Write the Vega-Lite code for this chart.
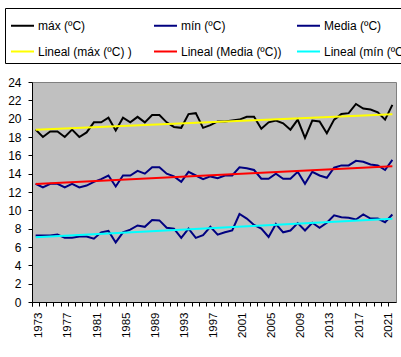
{
  "$schema": "https://vega.github.io/schema/vega-lite/v6.json",
  "width": 364,
  "height": 220,
  "autosize": {"type": "none"},
  "padding": {"left": 32, "top": 82, "right": 5, "bottom": 55},
  "background": "white",
  "config": {
    "font": "Liberation Sans",
    "view": {"fill": "#C0C0C0", "stroke": "#808080", "strokeWidth": 1},
    "axis": {"grid": false, "domainColor": "black", "tickColor": "black", "labelColor": "black", "labelFont": "Liberation Sans"}
  },
  "data": {"values": [
    {"year": 1973, "max": 18.8, "media": 12.9, "min": 7.25},
    {"year": 1974, "max": 18.0, "media": 12.5, "min": 7.25},
    {"year": 1975, "max": 18.6, "media": 12.9, "min": 7.25},
    {"year": 1976, "max": 18.6, "media": 12.9, "min": 7.35},
    {"year": 1977, "max": 18.0, "media": 12.5, "min": 7.0},
    {"year": 1978, "max": 18.8, "media": 12.9, "min": 7.0},
    {"year": 1979, "max": 18.0, "media": 12.5, "min": 7.15},
    {"year": 1980, "max": 18.5, "media": 12.7, "min": 7.15},
    {"year": 1981, "max": 19.6, "media": 13.1, "min": 6.9},
    {"year": 1982, "max": 19.6, "media": 13.4, "min": 7.6},
    {"year": 1983, "max": 20.1, "media": 13.8, "min": 7.75},
    {"year": 1984, "max": 18.7, "media": 12.6, "min": 6.5},
    {"year": 1985, "max": 20.1, "media": 13.8, "min": 7.6},
    {"year": 1986, "max": 19.6, "media": 13.8, "min": 7.9},
    {"year": 1987, "max": 20.2, "media": 14.3, "min": 8.35},
    {"year": 1988, "max": 19.6, "media": 14.0, "min": 8.2},
    {"year": 1989, "max": 20.4, "media": 14.7, "min": 8.95},
    {"year": 1990, "max": 20.4, "media": 14.7, "min": 8.9},
    {"year": 1991, "max": 19.6, "media": 14.0, "min": 8.1},
    {"year": 1992, "max": 19.1, "media": 13.7, "min": 8.0},
    {"year": 1993, "max": 19.0, "media": 13.1, "min": 7.0},
    {"year": 1994, "max": 20.5, "media": 14.2, "min": 8.0},
    {"year": 1995, "max": 20.6, "media": 13.8, "min": 7.0},
    {"year": 1996, "max": 19.0, "media": 13.4, "min": 7.3},
    {"year": 1997, "max": 19.3, "media": 13.7, "min": 8.2},
    {"year": 1998, "max": 19.7, "media": 13.5, "min": 7.35},
    {"year": 1999, "max": 19.7, "media": 13.8, "min": 7.6},
    {"year": 2000, "max": 19.8, "media": 13.8, "min": 7.8},
    {"year": 2001, "max": 19.9, "media": 14.7, "min": 9.6},
    {"year": 2002, "max": 20.2, "media": 14.6, "min": 9.1},
    {"year": 2003, "max": 20.2, "media": 14.4, "min": 8.4},
    {"year": 2004, "max": 18.9, "media": 13.45, "min": 8.0},
    {"year": 2005, "max": 19.6, "media": 13.45, "min": 7.1},
    {"year": 2006, "max": 19.8, "media": 14.0, "min": 8.5},
    {"year": 2007, "max": 19.5, "media": 13.45, "min": 7.6},
    {"year": 2008, "max": 18.8, "media": 13.45, "min": 7.8},
    {"year": 2009, "max": 19.9, "media": 14.2, "min": 8.6},
    {"year": 2010, "max": 17.9, "media": 12.9, "min": 7.8},
    {"year": 2011, "max": 19.8, "media": 14.2, "min": 8.65},
    {"year": 2012, "max": 19.7, "media": 13.8, "min": 8.1},
    {"year": 2013, "max": 18.4, "media": 13.55, "min": 8.65},
    {"year": 2014, "max": 19.9, "media": 14.65, "min": 9.45},
    {"year": 2015, "max": 20.5, "media": 14.9, "min": 9.25},
    {"year": 2016, "max": 20.6, "media": 14.9, "min": 9.2},
    {"year": 2017, "max": 21.6, "media": 15.4, "min": 9.0},
    {"year": 2018, "max": 21.1, "media": 15.3, "min": 9.55},
    {"year": 2019, "max": 21.0, "media": 15.0, "min": 9.1},
    {"year": 2020, "max": 20.7, "media": 14.9, "min": 9.1},
    {"year": 2021, "max": 19.9, "media": 14.4, "min": 8.7},
    {"year": 2022, "max": 21.5, "media": 15.5, "min": 9.55}
  ]},
  "transform": [
    {"fold": ["max", "media", "min"], "as": ["key", "val"]},
    {"lookup": "key", "from": {"data": {"values": [
      {"key": "max", "serie": "máx (ºC)", "tend": "Lineal (máx (ºC) )"},
      {"key": "media", "serie": "Media (ºC)", "tend": "Lineal (Media (ºC))"},
      {"key": "min", "serie": "mín (ºC)", "tend": "Lineal (mín (ºC))"}
    ]}, "key": "key", "fields": ["serie", "tend"]}}
  ],
  "encoding": {
    "x": {
      "field": "year", "type": "ordinal",
      "scale": {"type": "band", "paddingInner": 0, "paddingOuter": 0},
      "axis": {"title": null, "bandPosition": 0, "tickExtra": true, "labelOffset": 3.64, "labelAngle": 270,
               "labelExpr": "(datum.value - 1973) % 4 == 0 ? datum.label : ''",
               "labelFontSize": 11.5, "tickSize": 4, "labelPadding": 6}
    },
    "y": {
      "field": "val", "type": "quantitative",
      "scale": {"domain": [0, 24], "nice": false},
      "axis": {"title": null, "values": [0, 2, 4, 6, 8, 10, 12, 14, 16, 18, 20, 22, 24], "tickSize": 4, "labelPadding": 7, "labelFontSize": 12}
    }
  },
  "layer": [
    {
      "mark": {"type": "line", "strokeWidth": 2},
      "encoding": {
        "color": {
          "field": "serie", "type": "nominal",
          "scale": {
            "domain": ["máx (ºC)", "mín (ºC)", "Media (ºC)", "Lineal (máx (ºC) )", "Lineal (Media (ºC))", "Lineal (mín (ºC))"],
            "range": ["#000000", "#000080", "#000080", "#FFFF00", "#FF0000", "#00FFFF"]
          },
          "legend": {"title": null, "orient": "none", "legendX": -27, "legendY": -74, "direction": "horizontal", "columns": 3,
                     "gridAlign": "all", "columnPadding": 11, "rowPadding": 7, "padding": 5, "strokeColor": "black", "fillColor": "white",
                     "labelFontSize": 12, "labelColor": "black", "labelFont": "Liberation Sans", "symbolSize": 529, "symbolStrokeWidth": 2, "symbolType": "stroke", "labelOffset": 3, "labelLimit": 200}
        }
      }
    },
    {
      "transform": [{"regression": "val", "on": "year", "groupby": ["tend"]}],
      "mark": {"type": "line", "strokeWidth": 2},
      "encoding": {
        "color": {
          "field": "tend", "type": "nominal",
          "scale": {
            "domain": ["máx (ºC)", "mín (ºC)", "Media (ºC)", "Lineal (máx (ºC) )", "Lineal (Media (ºC))", "Lineal (mín (ºC))"],
            "range": ["#000000", "#000080", "#000080", "#FFFF00", "#FF0000", "#00FFFF"]
          }
        }
      }
    }
  ]
}
